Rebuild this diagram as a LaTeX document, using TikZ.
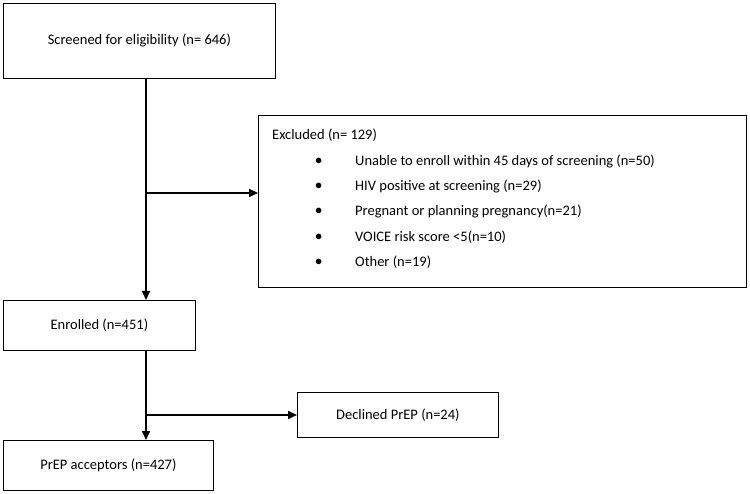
\documentclass[tikz,border=0pt]{standalone}
\usepackage{fontspec}
\setmainfont{Carlito}
\usetikzlibrary{positioning,arrows.meta}
\begin{document}
\fontsize{14.5}{17}\selectfont
\begin{tikzpicture}[x=1pt,y=-1pt]
 \tikzset{box node/.style={rectangle, draw, thick, anchor=north west}, }
 \tikzset{txt node/.style={anchor=west, inner sep=0pt}, }
 \tikzset{linea/.style={line width=1.8pt,-{Triangle[length=9pt,width=8pt]}},}
 \useasboundingbox (0,0) rectangle (750,494);
 \node[box node, minimum width=272, minimum height=75] (screen) at (3,3) {Screened for eligibility (n= 646)};
 \node[box node, minimum width=488, minimum height=172] (excl) at (258,115) {};
 \node[box node, minimum width=192, minimum height=50] (enrol) at (3,300) {Enrolled (n=451)};
 \node[box node, minimum width=201, minimum height=45] (decl) at (297,392) {Declined PrEP (n=24)};
 \node[box node, minimum width=210, minimum height=50] (accept) at (3,440) {PrEP acceptors (n=427)};
 \node[txt node] (ex0) at (272,135) {Excluded (n= 129)};
 \foreach \n/\yy/\t in {1/161/Unable to enroll within 45 days of screening (n=50),
   2/186/HIV positive at screening (n=29),
   3/211/Pregnant or planning pregnancy(n=21),
   4/237/VOICE risk score <5(n=10),
   5/262/Other (n=19)}
 {\node[txt node] (b\n) at (315,\yy) {$\bullet$};
  \node[txt node] (ex\n) at (355,\yy) {\t};}
 \coordinate (j1) at (146,193);
 \coordinate (j2) at (146,415);
 \draw[linea] (screen.south -| j1) -- (enrol.north -| j1);
 \draw[linea] (j1) -- (excl.west |- j1);
 \draw[linea] (enrol.south -| j2) -- (accept.north -| j2);
 \draw[linea] (j2) -- (decl.west |- j2);
\end{tikzpicture}
\end{document}
